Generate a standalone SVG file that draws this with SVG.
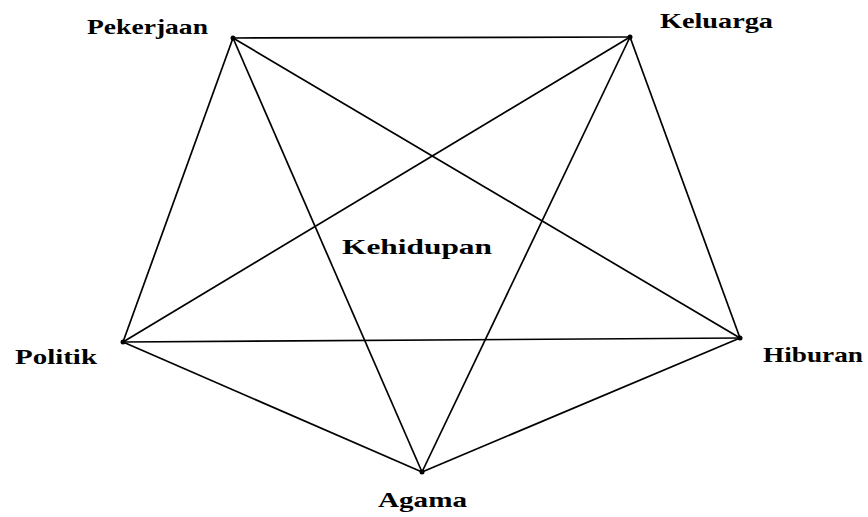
<svg xmlns="http://www.w3.org/2000/svg" width="868" height="517" viewBox="0 0 868 517">
<style>
.e{stroke:#000;stroke-width:1.7;fill:none}
.d{fill:#000}
.t{font-family:"Liberation Serif","Times New Roman",serif;font-weight:bold;font-size:21px;fill:#000}
</style>
<rect width="868" height="517" fill="#fff"/>
<g id="connectors">
<line class="e" x1="233" y1="38" x2="630" y2="37"/>
<line class="e" x1="233" y1="38" x2="123" y2="342"/>
<line class="e" x1="233" y1="38" x2="740" y2="338"/>
<line class="e" x1="233" y1="38" x2="422" y2="472"/>
<line class="e" x1="630" y1="37" x2="123" y2="342"/>
<line class="e" x1="630" y1="37" x2="740" y2="338"/>
<line class="e" x1="630" y1="37" x2="422" y2="472"/>
<line class="e" x1="123" y1="342" x2="740" y2="338"/>
<line class="e" x1="123" y1="342" x2="422" y2="472"/>
<line class="e" x1="740" y1="338" x2="422" y2="472"/>
</g>
<g id="pekerjaan"><circle class="d" cx="233" cy="38" r="2.5"/><text class="t" x="87" y="34" textLength="121" lengthAdjust="spacingAndGlyphs">Pekerjaan</text></g>
<g id="keluarga"><circle class="d" cx="630" cy="37" r="2.5"/><text class="t" x="660" y="28" textLength="113" lengthAdjust="spacingAndGlyphs">Keluarga</text></g>
<g id="politik"><circle class="d" cx="123" cy="342" r="2.5"/><text class="t" x="15" y="364" textLength="82" lengthAdjust="spacingAndGlyphs">Politik</text></g>
<g id="hiburan"><circle class="d" cx="740" cy="338" r="2.5"/><text class="t" x="763" y="362" textLength="100" lengthAdjust="spacingAndGlyphs">Hiburan</text></g>
<g id="agama"><circle class="d" cx="422" cy="472" r="2.5"/><text class="t" x="378" y="507" textLength="89" lengthAdjust="spacingAndGlyphs">Agama</text></g>
<g id="kehidupan"><text class="t" x="342" y="254" textLength="150" lengthAdjust="spacingAndGlyphs">Kehidupan</text></g>
</svg>
